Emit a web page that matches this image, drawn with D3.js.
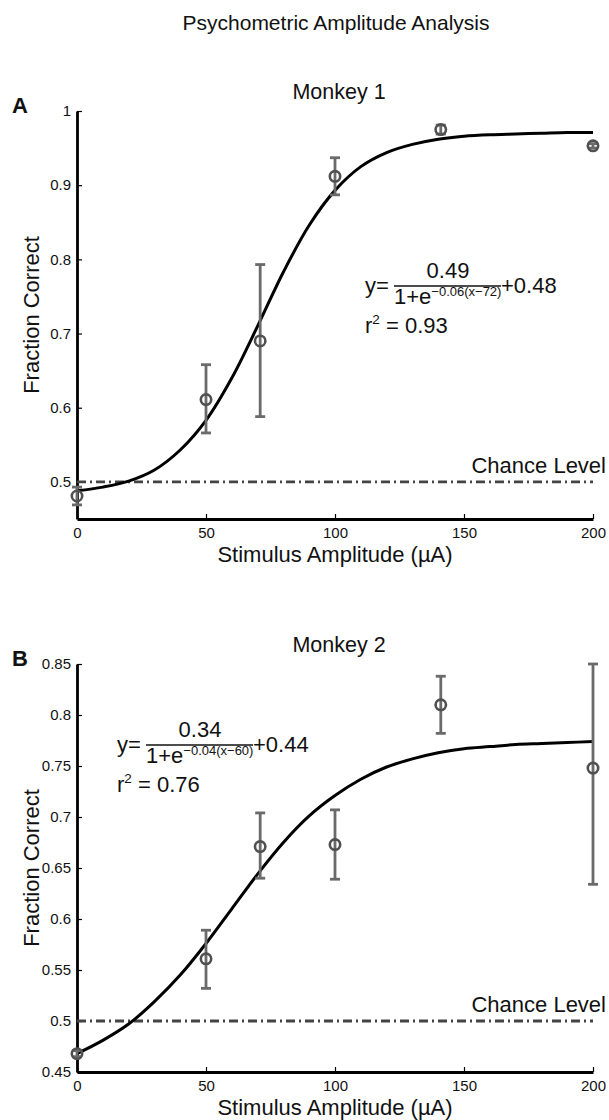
<!DOCTYPE html>
<html>
<head>
<meta charset="utf-8">
<script src="https://cdn.jsdelivr.net/npm/d3@7"></script>
<style>
body { margin: 0; background: #fff; }
text { font-family: "Liberation Sans", Arial, sans-serif; fill: #111; }
</style>
</head>
<body>
<div id="chart"></div>
<script>
// stimulus amplitudes (uA) used in both monkeys
var amps = [0, 50, 71, 100, 141, 200];

// monkey 1: fraction correct and error bar ends
var m1Mean = [0.481, 0.611, 0.690, 0.912, 0.975, 0.953];
var m1Lo   = [0.469, 0.566, 0.588, 0.887, 0.969, 0.950];
var m1Hi   = [0.493, 0.658, 0.793, 0.937, 0.981, 0.956];

// monkey 2
var m2Mean = [0.468, 0.561, 0.671, 0.673, 0.810, 0.748];
var m2Lo   = [0.465, 0.532, 0.640, 0.639, 0.782, 0.634];
var m2Hi   = [0.471, 0.589, 0.704, 0.707, 0.838, 0.850];

// fitted curves, every 10 uA
var fitX  = [0, 10, 20, 30, 40, 50, 60, 70, 80, 90, 100, 110, 120, 130, 140, 150, 160, 170, 180, 190, 200];
var fit1Y = [0.488, 0.493, 0.501, 0.516, 0.543, 0.583, 0.640, 0.710, 0.783, 0.846, 0.893, 0.925, 0.944, 0.955, 0.962, 0.966, 0.968, 0.969, 0.970, 0.971, 0.971];
var fit2Y = [0.468, 0.481, 0.497, 0.519, 0.545, 0.576, 0.610, 0.644, 0.675, 0.701, 0.721, 0.737, 0.749, 0.757, 0.763, 0.767, 0.769, 0.771, 0.772, 0.773, 0.774];

// axis ticks
var xTicks = [0, 50, 100, 150, 200];
var y1Ticks = [0.5, 0.6, 0.7, 0.8, 0.9, 1];
var y2Ticks = [0.45, 0.5, 0.55, 0.6, 0.65, 0.7, 0.75, 0.8, 0.85];
var chance = 0.5;

var width = 609, height = 1120;
var svg = d3.select("#chart").append("svg")
    .attr("width", width)
    .attr("height", height);

svg.append("text")
    .attr("x", 336).attr("y", 30)
    .attr("text-anchor", "middle")
    .style("font-size", "21px")
    .text("Psychometric Amplitude Analysis");

function drawPanel(p) {
    var xScale = d3.scaleLinear().domain([0, 200]).range([77, 593]);
    var yScale = d3.scaleLinear().domain(p.yDomain).range([p.bottom, p.top]);

    var pts = amps.map(function (a, i) {
        return {x: a, y: p.mean[i], lo: p.lo[i], hi: p.hi[i]};
    });
    var fit = fitX.map(function (a, i) { return {x: a, y: p.fit[i]}; });

    // y axis
    var yAxis = d3.axisLeft(yScale)
        .tickValues(p.yTicks)
        .tickFormat(function (d) { return String(+d.toFixed(2)); })
        .tickSizeInner(-5).tickSizeOuter(0).tickPadding(6);
    var gy = svg.append("g").attr("transform", "translate(77,0)").call(yAxis);
    // x axis
    var xAxis = d3.axisBottom(xScale)
        .tickValues(xTicks)
        .tickSizeInner(-5).tickSizeOuter(0).tickPadding(8);
    var gx = svg.append("g").attr("transform", "translate(0," + p.bottom + ")").call(xAxis);

    [gx, gy].forEach(function (g) {
        g.select(".domain").attr("stroke", "#000").attr("stroke-width", 2.8);
        g.selectAll(".tick line").attr("stroke", "#000").attr("stroke-width", 1.2);
        g.selectAll(".tick text").style("font-size", "15px")
            .style("font-family", "'Liberation Sans', Arial, sans-serif").attr("fill", "#111");
    });

    // chance level
    svg.append("line")
        .attr("x1", xScale(0)).attr("x2", xScale(200))
        .attr("y1", yScale(chance)).attr("y2", yScale(chance))
        .attr("stroke", "#444").attr("stroke-width", 2.8)
        .attr("stroke-dasharray", "9,4,2,4");
    svg.append("text")
        .attr("x", 606).attr("y", yScale(chance) - 9)
        .attr("text-anchor", "end")
        .style("font-size", "22px")
        .text("Chance Level");

    // fitted curve
    var line = d3.line()
        .x(function (d) { return xScale(d.x); })
        .y(function (d) { return yScale(d.y); })
        .curve(d3.curveCatmullRom);
    svg.append("path").datum(fit)
        .attr("d", line)
        .attr("fill", "none").attr("stroke", "#000").attr("stroke-width", 3);

    // error bars
    var eb = svg.append("g").attr("stroke", "#6a6a6a").attr("stroke-width", 2.8);
    eb.selectAll(".vbar").data(pts).enter().append("line")
        .attr("x1", function (d) { return xScale(d.x); })
        .attr("x2", function (d) { return xScale(d.x); })
        .attr("y1", function (d) { return yScale(d.lo); })
        .attr("y2", function (d) { return yScale(d.hi); });
    eb.selectAll(".capLo").data(pts).enter().append("line")
        .attr("x1", function (d) { return xScale(d.x) - 5; })
        .attr("x2", function (d) { return xScale(d.x) + 5; })
        .attr("y1", function (d) { return yScale(d.lo); })
        .attr("y2", function (d) { return yScale(d.lo); });
    eb.selectAll(".capHi").data(pts).enter().append("line")
        .attr("x1", function (d) { return xScale(d.x) - 5; })
        .attr("x2", function (d) { return xScale(d.x) + 5; })
        .attr("y1", function (d) { return yScale(d.hi); })
        .attr("y2", function (d) { return yScale(d.hi); });

    // markers
    svg.append("g").selectAll("circle").data(pts).enter().append("circle")
        .attr("cx", function (d) { return xScale(d.x); })
        .attr("cy", function (d) { return yScale(d.y); })
        .attr("r", 5.2)
        .attr("fill", "none").attr("stroke", "#505050").attr("stroke-width", 2.6);

    // titles
    svg.append("text")
        .attr("x", 339).attr("y", p.top - 12)
        .attr("text-anchor", "middle")
        .style("font-size", "21.5px")
        .text(p.title);
    svg.append("text")
        .attr("x", 12).attr("y", p.top + 2)
        .style("font-size", "22px").style("font-weight", "bold")
        .text(p.letter);
    svg.append("text")
        .attr("transform", "translate(39," + ((p.top + p.bottom) / 2) + ") rotate(-90)")
        .attr("text-anchor", "middle")
        .style("font-size", "22px")
        .text("Fraction Correct");
    svg.append("text")
        .attr("x", 335).attr("y", p.bottom + 43)
        .attr("text-anchor", "middle")
        .style("font-size", "22px")
        .text("Stimulus Amplitude (\u00b5A)");

    // fit equation
    var ex = p.eqX, ey = p.eqY;
    svg.append("text").attr("x", ex).attr("y", ey).style("font-size", "22px").text("y=");
    svg.append("text").attr("x", ex + 83).attr("y", ey - 15)
        .attr("text-anchor", "middle").style("font-size", "22px").text(p.num);
    svg.append("line")
        .attr("x1", ex + 29).attr("x2", ex + 136)
        .attr("y1", ey - 7).attr("y2", ey - 7)
        .attr("stroke", "#111").attr("stroke-width", 1.3);
    var den = svg.append("text").attr("x", ex + 29).attr("y", ey + 11).style("font-size", "22px");
    den.append("tspan").text("1+e");
    den.append("tspan").attr("dy", -8).style("font-size", "13px").text(p.exp);
    svg.append("text").attr("x", ex + 136).attr("y", ey).style("font-size", "22px").text(p.add);
    var r2 = svg.append("text").attr("x", ex).attr("y", ey + 40).style("font-size", "22px");
    r2.append("tspan").text("r");
    r2.append("tspan").attr("dy", -9).style("font-size", "13.5px").text("2");
    r2.append("tspan").attr("dy", 9).text(" = " + p.r2);
}

drawPanel({
    letter: "A", title: "Monkey 1",
    top: 111, bottom: 519, yDomain: [0.45, 1], yTicks: y1Ticks,
    mean: m1Mean, lo: m1Lo, hi: m1Hi, fit: fit1Y,
    eqX: 365, eqY: 293, num: "0.49", exp: "\u22120.06(x\u221272)", add: "+0.48", r2: "0.93"
});

drawPanel({
    letter: "B", title: "Monkey 2",
    top: 664, bottom: 1072, yDomain: [0.45, 0.85], yTicks: y2Ticks,
    mean: m2Mean, lo: m2Lo, hi: m2Hi, fit: fit2Y,
    eqX: 117, eqY: 752, num: "0.34", exp: "\u22120.04(x\u221260)", add: "+0.44", r2: "0.76"
});
</script>
</body>
</html>
